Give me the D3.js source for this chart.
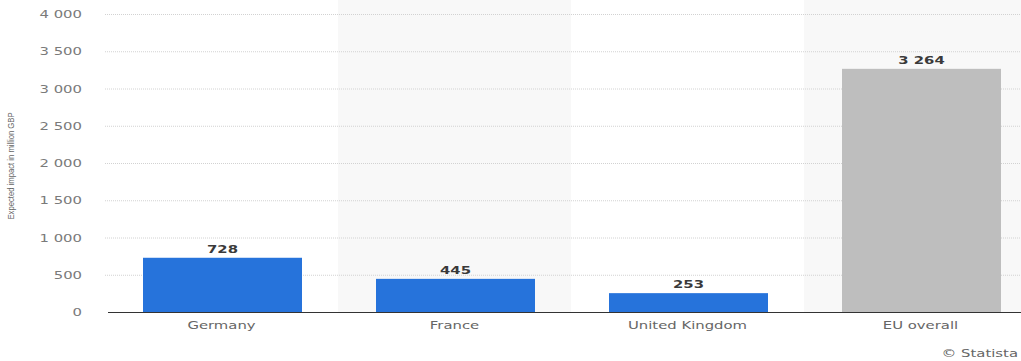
<!DOCTYPE html>
<html>
<head>
<meta charset="utf-8" />
<title>Expected impact</title>
<script src="https://d3js.org/d3.v7.min.js"></script>
<style>
  body { margin: 0; background: #fff; }
  svg { display: block; }
</style>
</head>
<body>
<svg class="chart"></svg>
<script>
// data
const categories = ["Germany", "France", "United Kingdom", "EU overall"];
const values = [728, 445, 253, 3264];
const barColors = ["#2673db", "#2673db", "#2673db", "#bebebe"];
const yTicks = [0, 500, 1000, 1500, 2000, 2500, 3000, 3500, 4000];
const yTitle = "Expected impact in million GBP";

const W = 1021, H = 361;
const margin = {top: 14, left: 105, bottom: 49};
const plotRight = 1037; // plot runs past the picture edge
const font = "DejaVu Sans, Verdana, sans-serif";
const sx = 1.35; // the source picture is stretched sideways

const svg = d3.select("svg").attr("width", W).attr("height", H);

const x = d3.scaleBand().domain(categories).range([margin.left, plotRight]).paddingInner(0).paddingOuter(0);
const y = d3.scaleLinear().domain([0, 4000]).range([H - margin.bottom, margin.top]);

const fmt = v => d3.format(",")(v).replace(/,/g, " ");

// alternating band shading
svg.append("g").selectAll("rect")
  .data(categories.filter((d, i) => i % 2 === 1))
  .enter().append("rect")
  .attr("x", d => x(d))
  .attr("y", 0)
  .attr("width", x.bandwidth())
  .attr("height", y(0))
  .attr("fill", "#f8f8f8");

// gridlines
svg.append("g").selectAll("line")
  .data(yTicks.filter(t => t > 0))
  .enter().append("line")
  .attr("x1", margin.left).attr("x2", W)
  .attr("y1", d => y(d) + 0.5).attr("y2", d => y(d) + 0.5)
  .attr("stroke", "#d2d2d2")
  .attr("stroke-dasharray", "1,1");

// y tick labels
const yAxis = svg.append("g")
  .attr("transform", `translate(${margin.left - 23},0)`)
  .call(d3.axisLeft(y).tickValues(yTicks).tickFormat(fmt).tickSize(0).tickPadding(0));
yAxis.select(".domain").remove();
yAxis.selectAll("text")
  .attr("font-family", font)
  .attr("font-size", 11)
  .attr("transform", `scale(${sx},1)`)
  .attr("fill", "#7a7a7a");

// bars
const bw = 159;
svg.append("g").selectAll("rect")
  .data(values)
  .enter().append("rect")
  .attr("x", (d, i) => x(categories[i]) + x.bandwidth() / 2 - bw / 2 + 1)
  .attr("y", d => y(d))
  .attr("width", bw)
  .attr("height", d => y(0) - y(d))
  .attr("fill", (d, i) => barColors[i]);

// value labels
svg.append("g").selectAll("text")
  .data(values)
  .enter().append("text")
  .attr("transform", (d, i) => `translate(${x(categories[i]) + x.bandwidth() / 2 + 1},${y(d) - 5}) scale(${sx},1)`)
  .attr("text-anchor", "middle")
  .attr("font-family", font)
  .attr("font-size", 11)
  .attr("font-weight", "bold")
  .attr("fill", "#3a3a3a")
  .text(fmt);

// x axis
const xAxis = svg.append("g")
  .attr("transform", `translate(0,${y(0)})`)
  .call(d3.axisBottom(x).tickSize(0).tickPadding(9));
xAxis.select(".domain").attr("stroke", "#333").attr("d", `M${margin.left + 3},0.5H${W}`);
xAxis.selectAll("text")
  .attr("font-family", font)
  .attr("font-size", 11)
  .attr("transform", `scale(${sx},1)`)
  .attr("fill", "#666");

// y axis title
svg.append("text")
  .attr("transform", `translate(14,${y(2000) + 3}) rotate(-90)`)
  .attr("text-anchor", "middle")
  .attr("font-family", "Liberation Sans Narrow, Liberation Sans, sans-serif")
  .attr("font-size", 9.5)
  .attr("textLength", 107)
  .attr("lengthAdjust", "spacingAndGlyphs")
  .attr("fill", "#666")
  .text(yTitle);

// source credit
svg.append("text")
  .attr("transform", `translate(1018,357) scale(${sx},1)`)
  .attr("text-anchor", "end")
  .attr("font-family", font)
  .attr("font-size", 11)
  .attr("fill", "#666")
  .text("© Statista");
</script>
</body>
</html>
